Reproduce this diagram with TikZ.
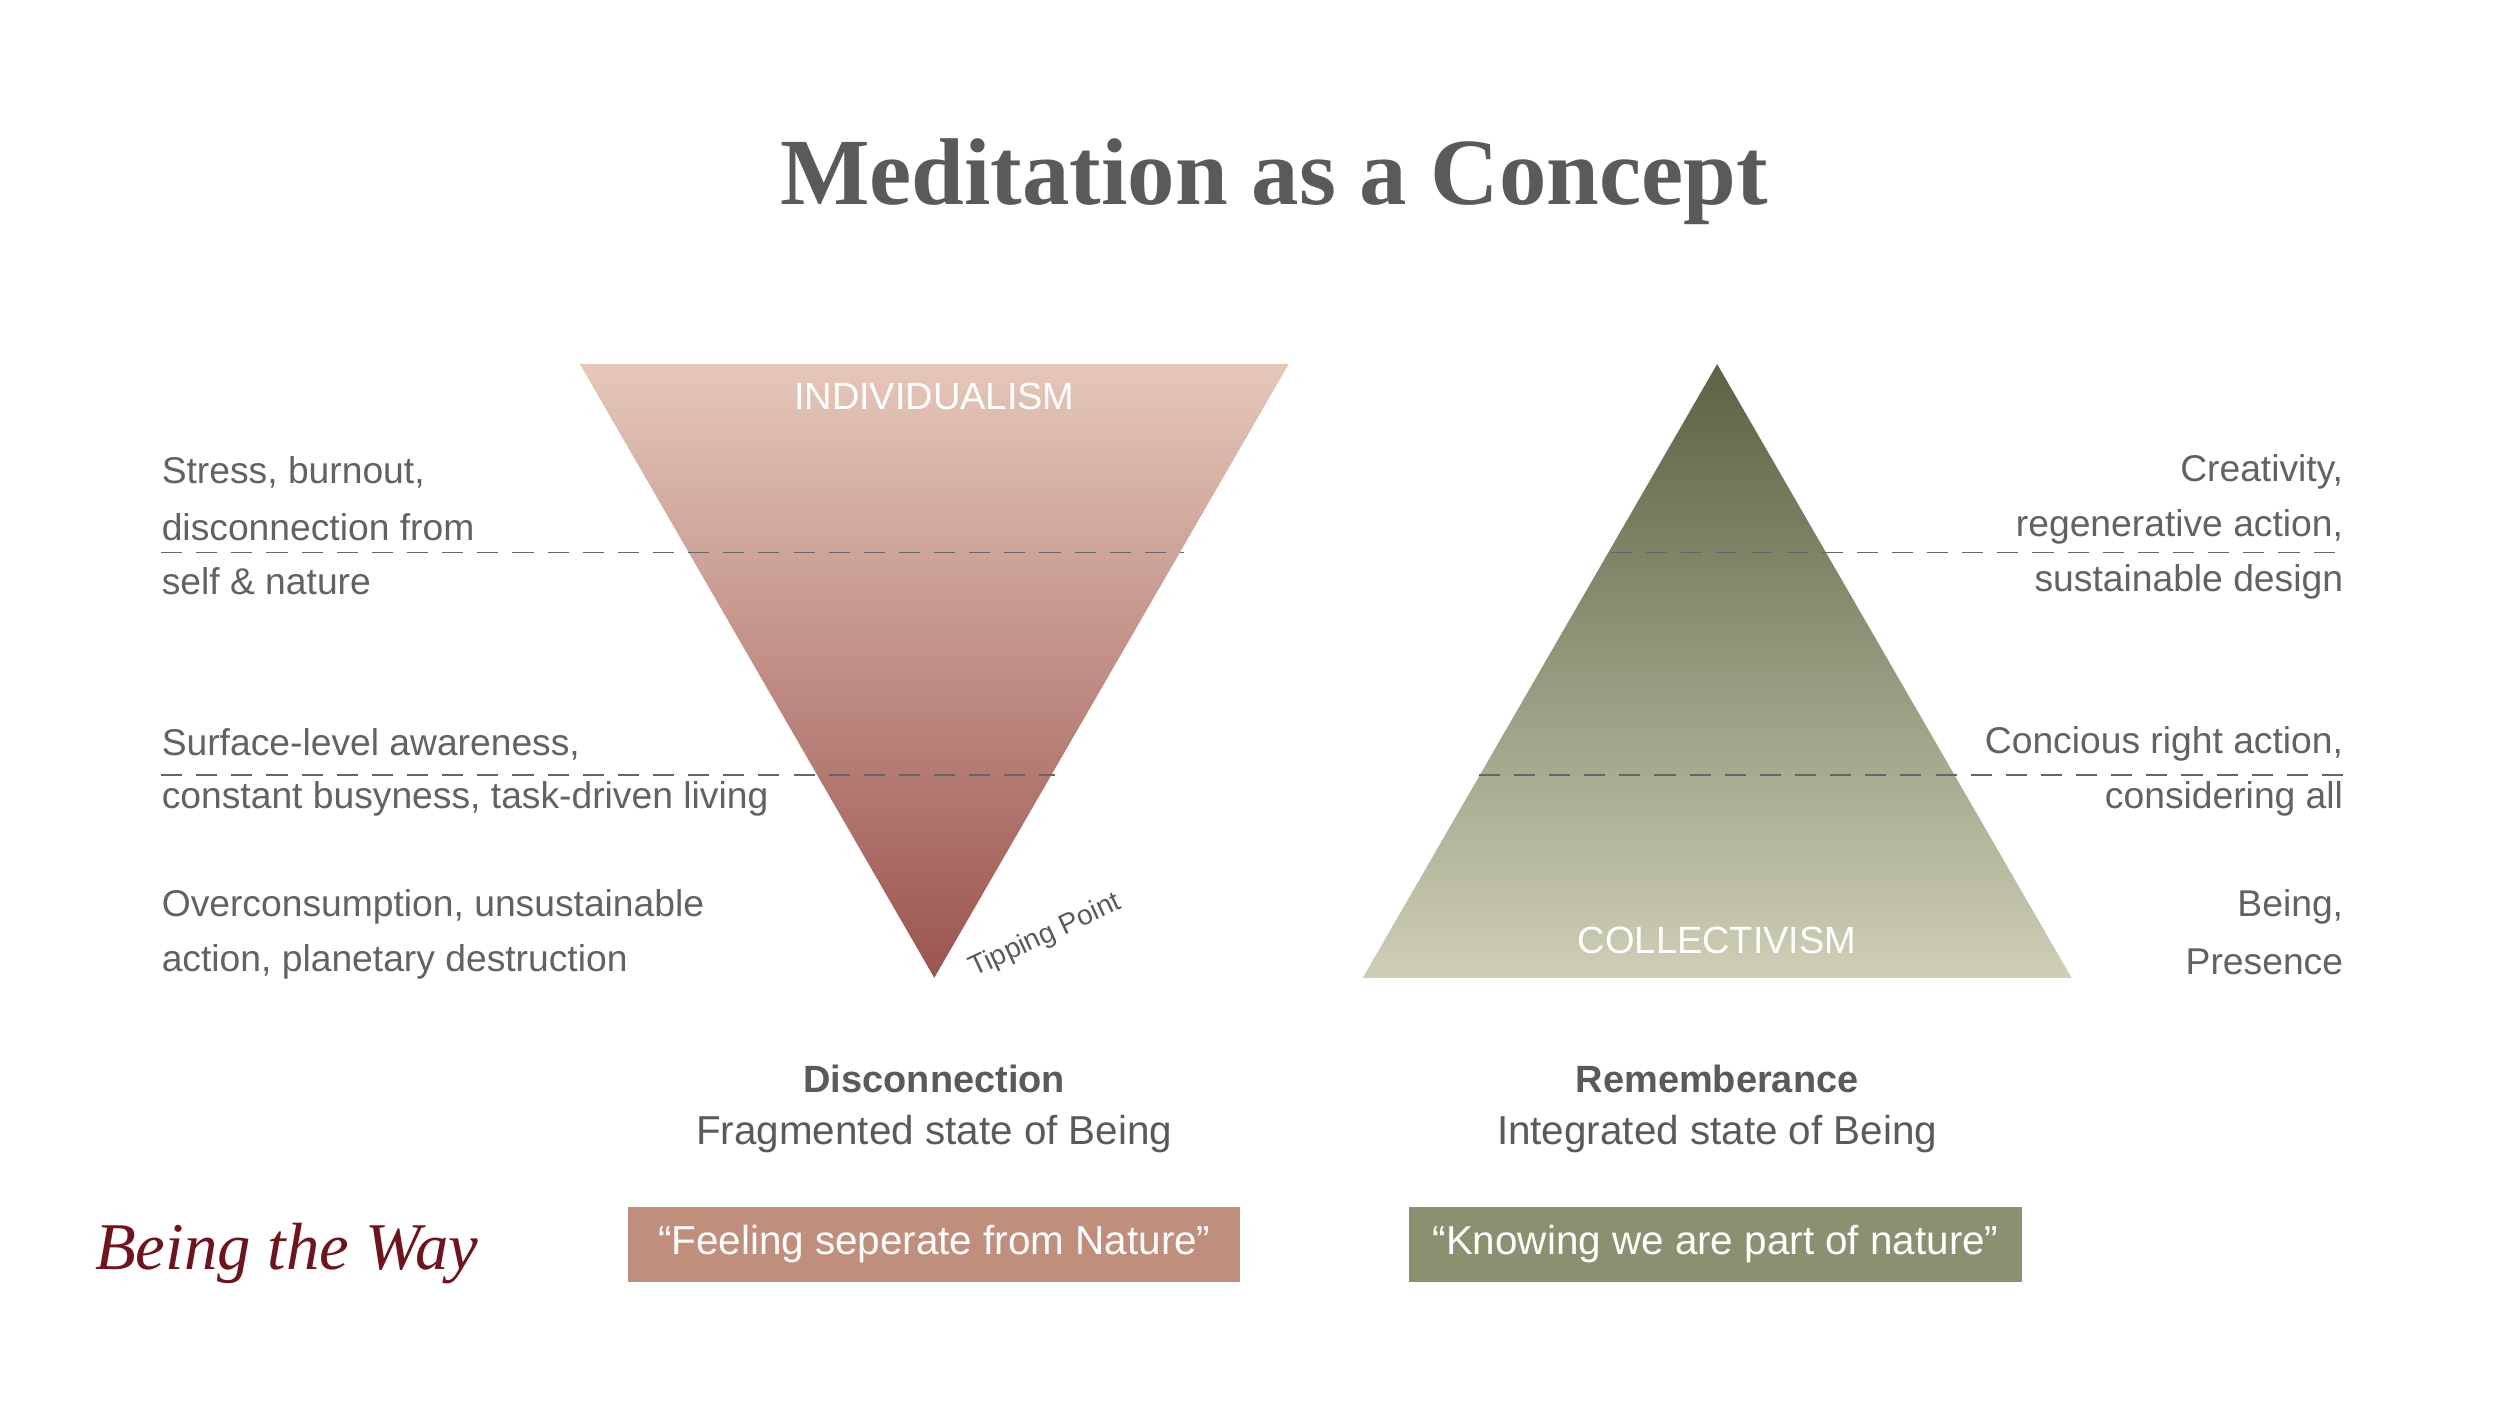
\documentclass[tikz,border=0pt]{standalone}
\usepackage{fontspec}
\setmainfont{Liberation Sans}
\newfontfamily\titlefont{Liberation Serif}
\begin{document}
\begin{tikzpicture}[x=0.016108cm,y=-0.016108cm,
  txt/.style={text=gray!10!black!65,font=\fontsize{10.6pt}{12pt}\selectfont,inner sep=0pt},
  dl/.style={draw=gray!80!black,dash pattern=on 6pt off 4pt,line width=0.5pt},
  box/.style={minimum width=380*0.016108cm,minimum height=47*0.016108cm,inner sep=0pt,text=white,font=\fontsize{11.5pt}{13pt}\selectfont}]
\definecolor{tg}{HTML}{5A5A5A}
\useasboundingbox[fill=white] (0,0) rectangle (1552,884);
\node[text=tg,font=\titlefont\bfseries\fontsize{27pt}{31pt}\selectfont] (title) at (791,113) {Meditation as a Concept};
% triangles
\shade[top color={rgb,255:red,229;green,199;blue,186},bottom color={rgb,255:red,155;green,84;blue,79}] (360,226) -- (800,226) -- (580,607) -- cycle;
\shade[top color={rgb,255:red,92;green,98;blue,67},bottom color={rgb,255:red,206;green,207;blue,182}] (1066,226) -- (1286,607) -- (846,607) -- cycle;
\node[text=white,font=\fontsize{10.8pt}{12pt}\selectfont] (ind) at (580,246) {INDIVIDUALISM};
\node[text=white,font=\fontsize{10.8pt}{12pt}\selectfont] (col) at (1066,584) {COLLECTIVISM};
% dashed lines
\coordinate (a1) at (100,343); \coordinate (a2) at (735,343);
\coordinate (b1) at (100,481); \coordinate (b2) at (655,481);
\coordinate (c1) at (1000,343); \coordinate (c2) at (1455,343);
\coordinate (d1) at (918,481); \coordinate (d2) at (1455,481);
\draw[dl] (a1) -- (a2); \draw[dl] (b1) -- (b2);
\draw[dl] (c1) -- (c2); \draw[dl] (d1) -- (d2);
% left texts
\foreach \n/\y/\t in {l1/293/{Stress, burnout,},l2/327/{disconnection from},l3/361/{self \& nature},l4/462/{Surface-level awareness,},l5/496/{constant busyness, task-driven living},l6/563/{Overconsumption, unsustainable},l7/597/{action, planetary destruction}}
  \node[txt,anchor=west] (\n) at (100,\y) {\t};
\foreach \n/\y/\t in {r1/293/{Creativity,},r2/327/{regenerative action,},r3/361/{sustainable design},r4/462/{Concious right action,},r5/496/{considering all},r6/563/{Being,},r7/597/{Presence}}
  \node[txt,anchor=east] (\n) at (1455,\y) {\t};
\node[text=tg,rotate=25,font=\fontsize{8pt}{9pt}\selectfont] (tip) at (649,581) {Tipping Point};
% captions
\node[text=tg,font=\bfseries\fontsize{10.8pt}{12pt}\selectfont] (dis) at (580,670) {Disconnection};
\node[text=tg,font=\fontsize{11.5pt}{13pt}\selectfont] (frag) at (580,704) {Fragmented state of Being};
\node[text=tg,font=\bfseries\fontsize{10.8pt}{12pt}\selectfont] (rem) at (1066,670) {Rememberance};
\node[text=tg,font=\fontsize{11.5pt}{13pt}\selectfont] (integ) at (1066,704) {Integrated state of Being};
\node[box,fill={rgb,255:red,192;green,142;blue,125}] (bx1) at (580,772.5) {“Feeling seperate from Nature”};
\node[box,fill={rgb,255:red,140;green,143;blue,112}] (bx2) at (1065,772.5) {“Knowing we are part of nature”};
\node[text={rgb,255:red,110;green,20;blue,30},font=\titlefont\itshape\fontsize{19pt}{22pt}\selectfont] (logo) at (178,778) {Being the Way};
\end{tikzpicture}
\end{document}
